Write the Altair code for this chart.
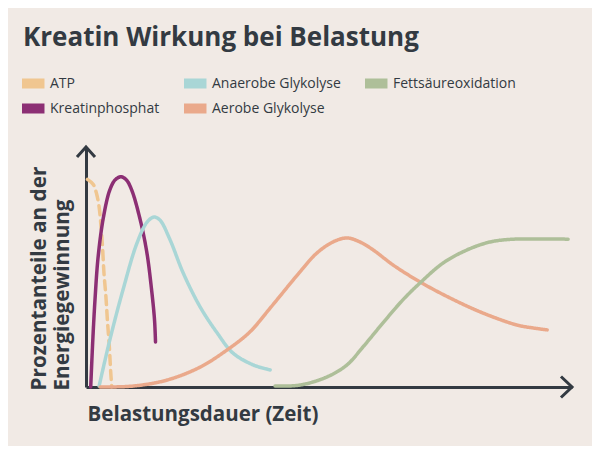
import altair as alt
import pandas as pd

# ---- data (x: Belastungsdauer 0-100, y: Anteil 0-100) ----
series_names = ["ATP", "Kreatinphosphat", "Anaerobe Glykolyse", "Aerobe Glykolyse", "Fettsäureoxidation"]
series_colors = ["#f0c690", "#8c2f74", "#a9d6d6", "#eaa98b", "#aebf99"]

atp_x = [0.3, 1.5, 2.2, 2.7, 3.1, 3.4, 3.7, 4.1, 4.4, 4.8, 5.1, 5.3]
atp_y = [86.5, 84.4, 80.3, 75.0, 66.7, 58.3, 47.4, 37.6, 27.9, 16.8, 5.7, 0.1]

kp_x = [0.97, 1.4, 1.85, 2.5, 3.6, 4.9, 6.0, 7.2, 8.3, 9.4, 11.1, 12.5, 13.5, 14.1, 14.3]
kp_y = [0.0, 19.6, 36.3, 54.3, 70.9, 82.1, 86.3, 87.6, 86.3, 82.1, 70.1, 56.3, 40.4, 27.9, 18.8]

an_x = [2.7, 4.9, 7.6, 10.5, 12.6, 14.0, 15.2, 17.3, 20.0, 23.5, 27.0, 30.2, 34.4, 37.9]
an_y = [0.4, 19.6, 40.4, 60.0, 68.8, 70.8, 69.6, 61.3, 47.5, 33.3, 22.5, 14.2, 9.2, 7.1]

ae_x = [2.9, 9.7, 16.7, 23.5, 29.0, 33.7, 37.9, 44.0, 47.5, 50.8, 53.7, 56.4, 59.1, 63.2, 68.7, 74.9, 81.7, 88.7, 92.0, 94.9]
ae_y = [0.0, 0.4, 2.9, 8.3, 15.4, 22.9, 32.9, 47.9, 55.8, 60.4, 62.1, 60.4, 57.1, 50.8, 43.8, 37.1, 30.8, 25.8, 24.6, 23.8]

fe_x = [38.9, 44.0, 49.6, 53.7, 57.0, 61.1, 65.2, 68.7, 73.5, 78.4, 83.1, 87.2, 92.0, 99.2]
fe_y = [0.4, 0.8, 4.2, 9.2, 16.7, 26.7, 36.3, 43.3, 51.7, 57.1, 60.4, 61.5, 61.7, 61.6]

title_text = "Kreatin Wirkung bei Belastung"
x_title = "Belastungsdauer (Zeit)"
y_title = ["Prozentanteile an der", "Energiegewinnung"]

# ---- build table ----
rows = []
for name, xs, ys in [("ATP", atp_x, atp_y), ("Kreatinphosphat", kp_x, kp_y),
                     ("Anaerobe Glykolyse", an_x, an_y), ("Aerobe Glykolyse", ae_x, ae_y),
                     ("Fettsäureoxidation", fe_x, fe_y)]:
    for i, (xv, yv) in enumerate(zip(xs, ys)):
        rows.append({"series": name, "t": xv, "p": yv, "i": i,
                     "dash": "dashed" if name == "ATP" else "solid"})
df = pd.DataFrame(rows)

DARK = "#333a42"
FONT = "Open Sans"

xscale = alt.Scale(domain=[0, 100], nice=False, zero=False)
yscale = alt.Scale(domain=[0, 100], nice=False, zero=False)

lines = alt.Chart(df).mark_line(strokeWidth=3.5, interpolate="catmull-rom", strokeCap="round").encode(
    x=alt.X("t:Q", scale=xscale,
            axis=alt.Axis(title=x_title, domain=True, domainColor=DARK, domainWidth=3,
                          ticks=False, labels=False, grid=False,
                          titleX=1, titleY=33, titleAlign="left", titleBaseline="alphabetic",
                          titleFont=FONT, titleFontSize=20.5, titleFontWeight="bold", titleColor=DARK)),
    y=alt.Y("p:Q", scale=yscale,
            axis=alt.Axis(title=y_title, domain=True, domainColor=DARK, domainWidth=3,
                          ticks=False, labels=False, grid=False,
                          titleX=-41, titleY=243, titleAngle=270, titleAlign="left",
                          titleBaseline="alphabetic", titleLineHeight=23,
                          titleFont=FONT, titleFontSize=20.7, titleFontWeight="bold", titleColor=DARK)),
    color=alt.Color("series:N", scale=alt.Scale(domain=series_names, range=series_colors),
                    sort=series_names,
                    legend=alt.Legend(title=None, orient="none", legendX=-64, legendY=-70.5,
                                      columns=3, columnPadding=24, rowPadding=11, clipHeight=14,
                                      symbolType="M-2,0H2", symbolSize=132, symbolStrokeWidth=10,
                                      labelFont=FONT, labelFontSize=14, labelFontWeight=500,
                                      labelColor=DARK, labelOffset=6, padding=0)),
    strokeDash=alt.StrokeDash("dash:N", scale=alt.Scale(domain=["solid", "dashed"], range=[[1, 0], [9, 6]]),
                              legend=None),
    order="i:Q",
)

arrow_df = pd.DataFrame({"t": [0, 100], "p": [100, 0], "which": ["y", "x"]})
arrow_y = alt.Chart(arrow_df[arrow_df.which == "y"]).mark_point(
    shape="M-1,1.1L0,0L1,1.1", filled=False, size=324, strokeWidth=3, color=DARK, opacity=1
).encode(x=alt.X("t:Q", scale=xscale), y=alt.Y("p:Q", scale=yscale))
arrow_x = alt.Chart(arrow_df[arrow_df.which == "x"]).mark_point(
    shape="M-1.05,-1L0,0L-1.05,1", filled=False, size=441, strokeWidth=3, color=DARK, opacity=1
).encode(x=alt.X("t:Q", scale=xscale), y=alt.Y("p:Q", scale=yscale))

chart = alt.layer(lines, arrow_y, arrow_x).properties(
    width=486, height=240,
    title=alt.TitleParams(title_text, anchor="start", frame="group", dx=-63, offset=25.5,
                          font=FONT, fontSize=26, fontWeight="bold", color=DARK),
    autosize=alt.AutoSizeParams(type="none"),
    padding={"left": 78, "top": 139, "right": 20, "bottom": 59},
    background="#f1eae5",
).configure_view(stroke=None)

chart.save("out.html", embed_options={"renderer": "svg", "actions": False})
